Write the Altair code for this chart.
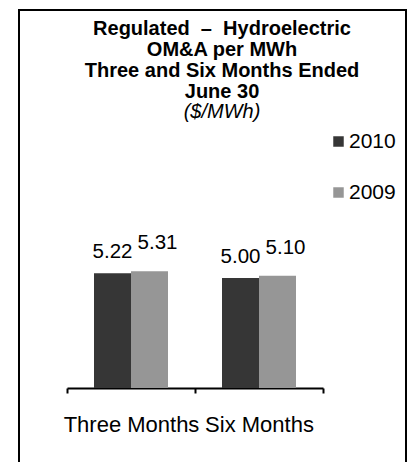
import altair as alt
import pandas as pd

periods = ["Three Months", "Six Months"]
years = ["2010", "2009"]
values_2010 = [5.22, 5.00]
values_2009 = [5.31, 5.10]
colors = ["#363636", "#969696"]

NB = "\u00a0"
title_lines = ["Regulated" + NB * 2 + "\u2013" + NB * 2 + "Hydroelectric", "OM&A per MWh",
               "Three and Six Months Ended", "June 30"]
subtitle_text = NB * 2 + "($/MWh)"

rows = []
for i, p in enumerate(periods):
    rows.append({"Period": p, "Year": "2010", "Value": values_2010[i]})
    rows.append({"Period": p, "Year": "2009", "Value": values_2009[i]})
df = pd.DataFrame(rows)

FONT = "Liberation Sans"

x = alt.X("Period:N", sort=periods,
          scale=alt.Scale(paddingInner=0, paddingOuter=0),
          axis=alt.Axis(title=None, labelAngle=0, tickBand="extent",
                        domainColor="black", domainWidth=2,
                        tickColor="black", tickWidth=2, tickSize=5,
                        labelColor="black", labelFontSize=22, labelFont=FONT,
                        labelPadding=21, grid=False))
xo = alt.XOffset("Year:N", sort=years,
                 scale=alt.Scale(paddingOuter=0.73, paddingInner=0))
y = alt.Y("Value:Q", scale=alt.Scale(domain=[0, 6]), axis=None)

base = alt.Chart(df)

bars = base.mark_bar().encode(
    x=x, xOffset=xo, y=y,
    color=alt.Color("Year:N", sort=years,
                    scale=alt.Scale(domain=years, range=colors),
                    legend=alt.Legend(title=None, orient="none", legendX=261, legendY=-125,
                                      symbolType="square", symbolSize=110,
                                      symbolStrokeWidth=0,
                                      labelFontSize=21, labelFont=FONT, labelColor="black",
                                      labelOffset=0, rowPadding=29, padding=0)),
)

lab2010 = base.transform_filter(alt.datum.Year == "2010").mark_text(
    baseline="alphabetic", dy=-15, fontSize=20.5, font=FONT, color="black"
).encode(x=x, xOffset=xo, y=y, text=alt.Text("Value:Q", format=".2f"))

lab2009 = base.transform_filter(alt.datum.Year == "2009").mark_text(
    baseline="alphabetic", dy=-22, dx=8, fontSize=20.5, font=FONT, color="black"
).encode(x=x, xOffset=xo, y=y, text=alt.Text("Value:Q", format=".2f"))

frame = alt.Chart(pd.DataFrame({"k": [0]})).mark_rect(
    filled=False, stroke="black", strokeWidth=2
).encode(x=alt.value(-48), x2=alt.value(339), y=alt.value(-246), y2=alt.value(240))

chart = alt.layer(bars, lab2010, lab2009, frame).properties(
    width=256, height=132,
    background="white",
    autosize=alt.AutoSizeParams(type="none"),
    padding={"left": 59, "top": 248, "right": 85, "bottom": 74},
    title=alt.TitleParams(text=title_lines, subtitle=subtitle_text,
                          font=FONT, fontSize=20, fontWeight="bold", color="black",
                          lineHeight=21, anchor="middle", dx=27, offset=-113,
                          subtitleFont=FONT, subtitleFontSize=20,
                          subtitleFontStyle="italic", subtitleColor="black",
                          subtitlePadding=0, subtitleLineHeight=21),
).configure_view(strokeWidth=0, stroke="transparent")

chart.save("out.html", embed_options={"renderer": "svg", "actions": False})
